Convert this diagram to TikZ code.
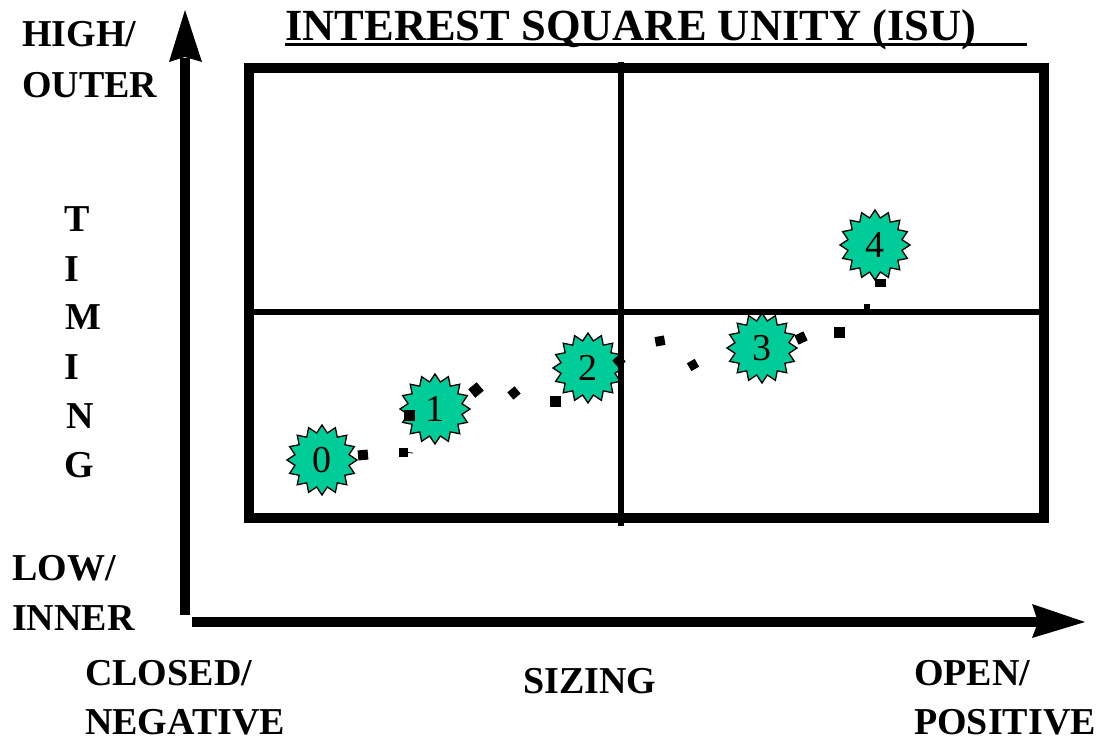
\documentclass[tikz,border=0pt]{standalone}
\usepackage{fontspec}
\setmainfont{Liberation Serif}
\usetikzlibrary{shapes.geometric}
\definecolor{stargreen}{RGB}{0,204,153}
\tikzset{
  lab/.style={anchor=base west,inner sep=0pt,font=\fontsize{38}{38}\selectfont\bfseries},
  ttl/.style={anchor=base west,inner sep=0pt,font=\fontsize{44.5}{44.5}\selectfont\bfseries},
  vlet/.style={anchor=base,inner sep=0pt,font=\fontsize{38}{38}\selectfont\bfseries},
  burst/.style={star,star points=16,star point height=7.5pt,minimum size=70pt,inner sep=0pt,draw=black,line width=1.3pt,fill=stargreen,font=\fontsize{38}{38}\selectfont},
  dotm/.style={fill=black,inner sep=0pt,minimum size=#1},
  dotm/.default=11pt,
  heavy/.style={line width=10pt,draw=black},
  mid/.style={line width=6pt,draw=black},
  axis/.style={line width=10pt,draw=black},
  head/.style={fill=black,draw=none}
}
\begin{document}
\begin{tikzpicture}[x=1pt,y=-1pt]
\useasboundingbox (0,0) rectangle (1113,738);
\node[burst] (s0) at (322,460) {0};
\node[burst] (s1) at (435,409) {1};
\node[burst] (s2) at (588,368) {2};
\node[burst] (s3) at (762,348) {3};
\node[burst] (s4) at (875,245) {4};
\coordinate (tl) at (249,68);
\coordinate (br) at (1044,518);
\draw[heavy] (tl) rectangle (br);
\coordinate (vt) at (621,62);
\coordinate (vb) at (621,526);
\coordinate (hl) at (250,312);
\coordinate (hr) at (1044,312);
\draw[mid] (vt) -- (vb);
\draw[mid] (hl) -- (hr);
\coordinate (ya) at (185,615);
\coordinate (yb) at (185,58);
\coordinate (xa) at (192,622);
\coordinate (xb) at (1038,622);
\draw[axis] (ya) -- (yb);
\draw[axis] (xa) -- (xb);
\fill[head] (185,10) -- (202,62) -- (185,57) -- (169,62) -- cycle;
\fill[head] (1085,622) -- (1032,604) -- (1038,622) -- (1032,638) -- cycle;
\node[dotm=10pt,rotate=5] (d1) at (363,455) {};
\node[dotm=9pt] (d2) at (403,452) {};
\coordinate (d2e) at (413,453);
\draw[line width=0.8pt] (d2) -- (d2e);
\node[dotm] (d3) at (409,415) {};
\node[dotm,rotate=40] (d4) at (476,390) {};
\node[dotm=9.5pt,rotate=40] (d5) at (514,393) {};
\node[dotm] (d6) at (555,401) {};
\node[dotm=9.5pt,rotate=40] (d7) at (619,361) {};
\node[dotm=9.5pt,rotate=10] (d8) at (660,341) {};
\node[dotm=9pt,rotate=30] (d9) at (693,365) {};
\node[dotm=10pt,rotate=25] (d10) at (801,338) {};
\node[dotm] (d11) at (839,332) {};
\node[dotm=6pt] (d12) at (867,307) {};
\node[fill=black,inner sep=0pt,minimum width=11pt,minimum height=8pt] (d13) at (880,283) {};
\node[ttl] (title) at (285,41) {INTEREST SQUARE UNITY (ISU)};
\coordinate (ula) at (285,45);
\coordinate (ulb) at (1027,45);
\draw[line width=3pt] (ula) -- (ulb);
\node[lab] (high) at (22,47) {HIGH/};
\node[lab] (outer) at (22,98) {OUTER};
\node[lab] (low) at (12,580) {LOW/};
\node[lab] (inner) at (12,630) {INNER};
\node[lab] (closed) at (85,685) {CLOSED/};
\node[lab] (neg) at (85,734) {NEGATIVE};
\node[lab] (sizing) at (523,693) {SIZING};
\node[lab] (open) at (914,685) {OPEN/};
\node[lab] (pos) at (914,734) {POSITIVE};
\node[vlet] (t1) at (77,231) {T};
\node[vlet] (t2) at (72,281) {I};
\node[vlet] (t3) at (83,329) {M};
\node[vlet] (t4) at (72,379) {I};
\node[vlet] (t5) at (80,428) {N};
\node[vlet] (t6) at (79,477) {G};
\end{tikzpicture}
\end{document}
